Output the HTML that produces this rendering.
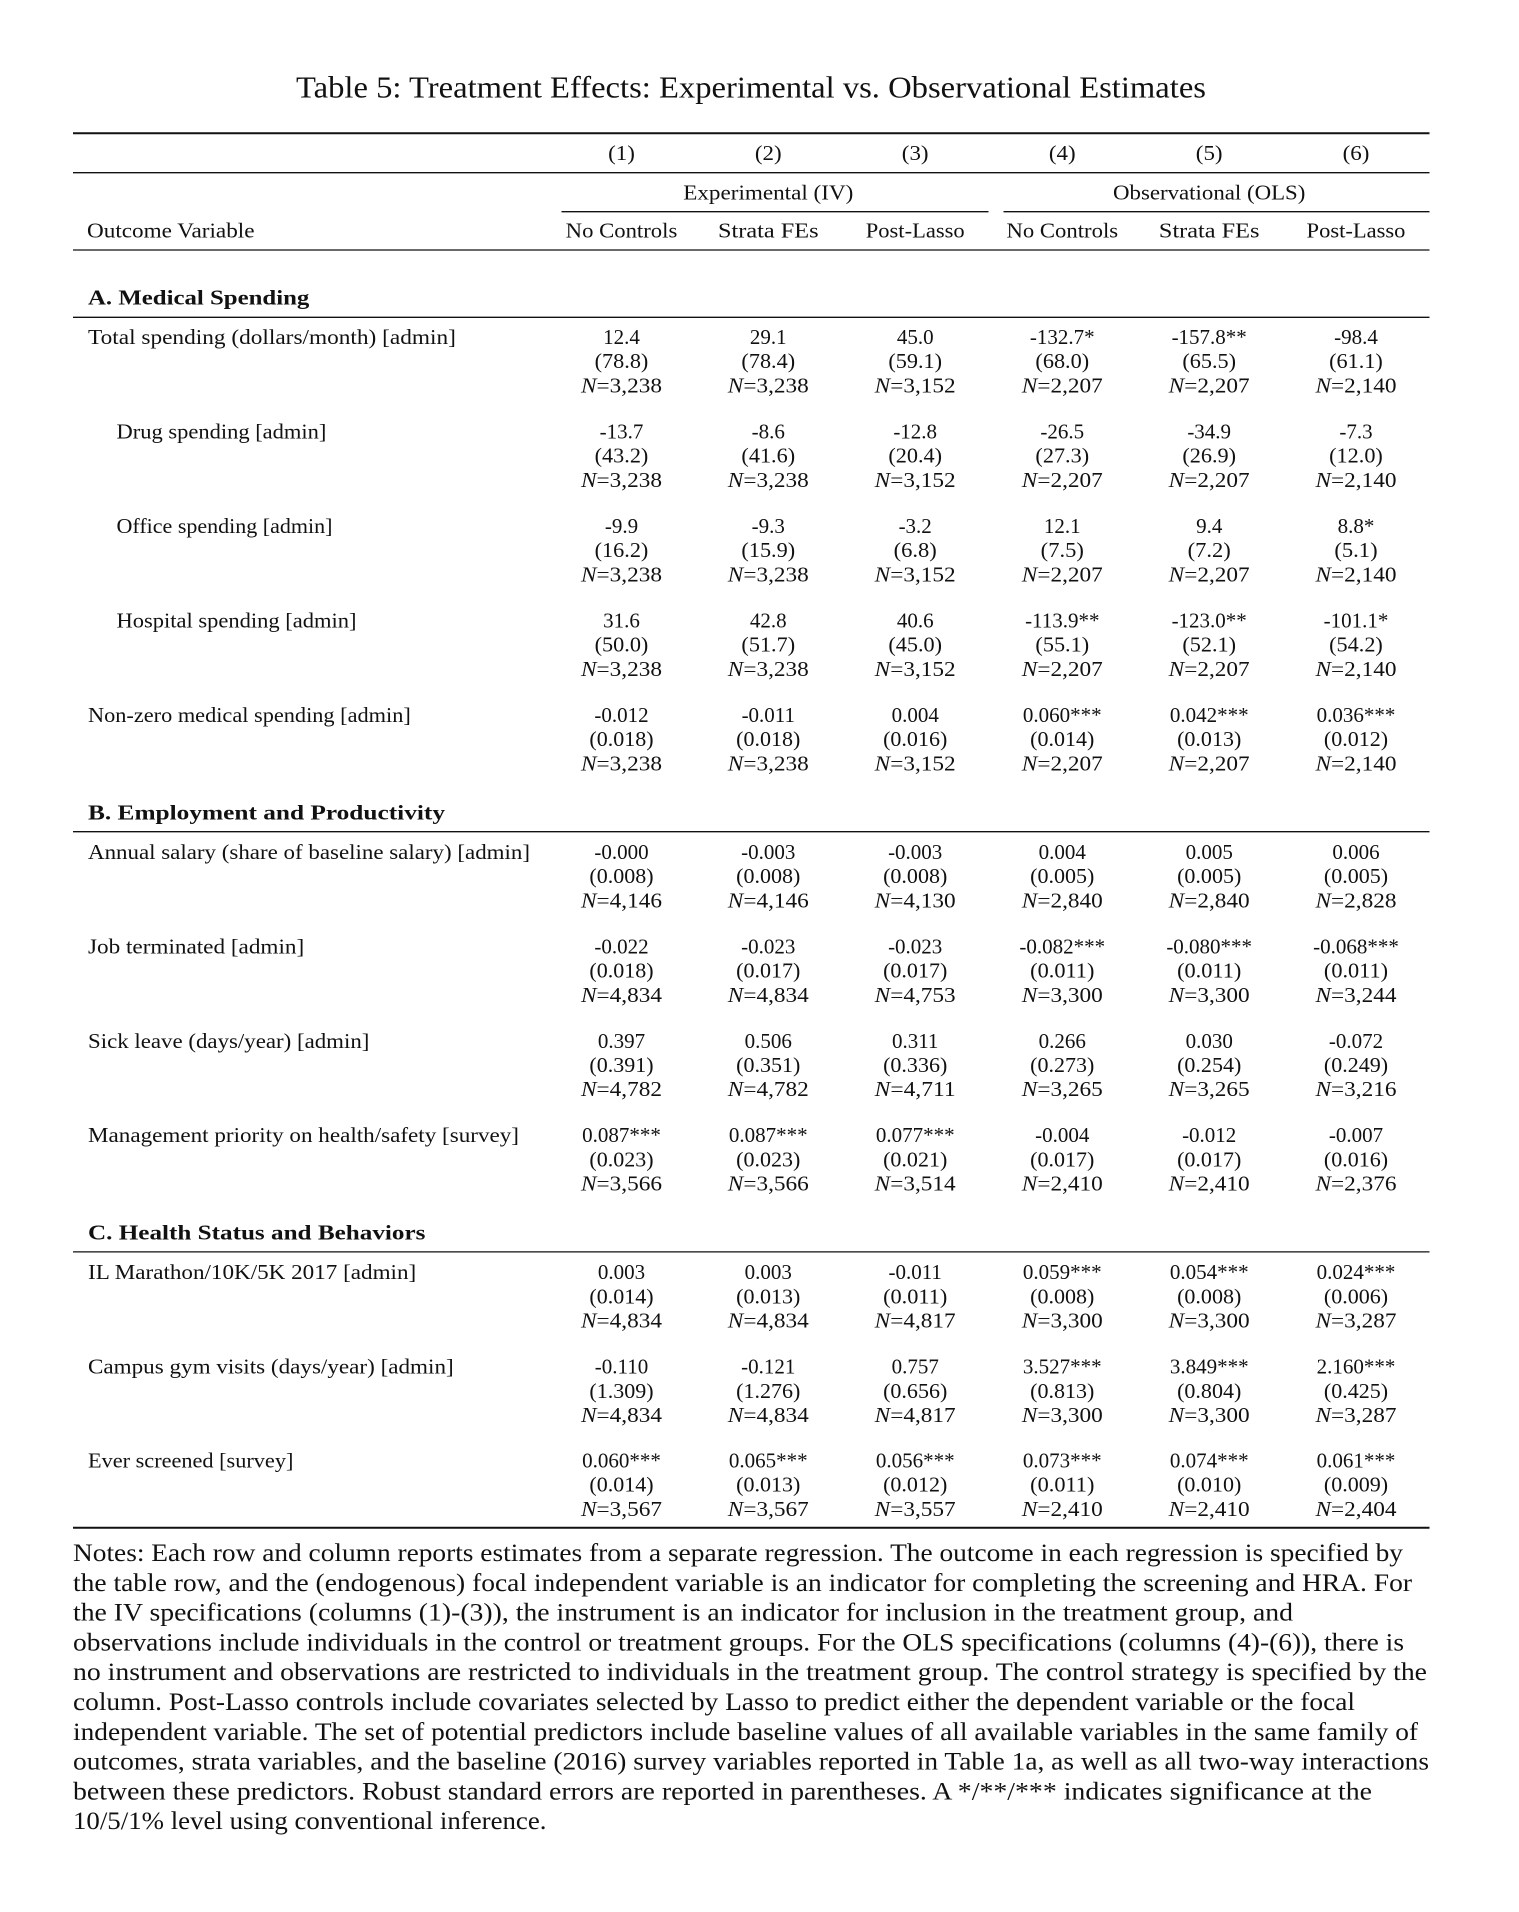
<!DOCTYPE html>
<html>
<head>
<meta charset="utf-8">
<style>
html,body{margin:0;padding:0;background:#fff;}
svg{display:block;}
text{font-family:"Liberation Serif",serif;fill:#111;}
.t{font-size:21px;}
.c{font-size:21px;text-anchor:middle;}
.b{font-size:21px;font-weight:bold;}
.n{font-size:24.8px;}
</style>
</head>
<body>
<svg width="1519" height="1912" viewBox="0 0 1519 1912" xmlns="http://www.w3.org/2000/svg">
<rect width="1519" height="1912" fill="#fff"/>

<!-- Title -->
<text x="296" y="97.7" font-size="31" textLength="910" lengthAdjust="spacingAndGlyphs">Table 5: Treatment Effects: Experimental vs. Observational Estimates</text>

<!-- Rules -->
<g stroke="#111">
<line x1="73" y1="133.3" x2="1429.5" y2="133.3" stroke-width="2"/>
<line x1="73" y1="172.7" x2="1429.5" y2="172.7" stroke-width="1.3"/>
<line x1="561.5" y1="211.7" x2="988.5" y2="211.7" stroke-width="1.3"/>
<line x1="1003.5" y1="211.7" x2="1429.5" y2="211.7" stroke-width="1.3"/>
<line x1="73" y1="250" x2="1429.5" y2="250" stroke-width="1.3"/>
<line x1="73" y1="317.3" x2="1429.5" y2="317.3" stroke-width="1.3"/>
<line x1="73" y1="831.7" x2="1429.5" y2="831.7" stroke-width="1.3"/>
<line x1="73" y1="1251.9" x2="1429.5" y2="1251.9" stroke-width="1.3"/>
<line x1="73" y1="1527.7" x2="1429.5" y2="1527.7" stroke-width="2"/>
</g>

<!-- Header -->
<g>
<text class="c" x="621.5" y="160" textLength="26.8" lengthAdjust="spacingAndGlyphs">(1)</text>
<text class="c" x="768.3" y="160" textLength="26.8" lengthAdjust="spacingAndGlyphs">(2)</text>
<text class="c" x="915.2" y="160" textLength="26.8" lengthAdjust="spacingAndGlyphs">(3)</text>
<text class="c" x="1062.3" y="160" textLength="26.8" lengthAdjust="spacingAndGlyphs">(4)</text>
<text class="c" x="1209.2" y="160" textLength="26.8" lengthAdjust="spacingAndGlyphs">(5)</text>
<text class="c" x="1356" y="160" textLength="26.8" lengthAdjust="spacingAndGlyphs">(6)</text>

<text class="c" x="768.3" y="199.3" textLength="170.1" lengthAdjust="spacingAndGlyphs">Experimental (IV)</text>
<text class="c" x="1209.2" y="199.3" textLength="192.4" lengthAdjust="spacingAndGlyphs">Observational (OLS)</text>

<text class="t" x="87" y="237.7" textLength="167.5" lengthAdjust="spacingAndGlyphs">Outcome Variable</text>
<text class="c" x="621.5" y="237.7" textLength="111.6" lengthAdjust="spacingAndGlyphs">No Controls</text>
<text class="c" x="768.3" y="237.7" textLength="100.5" lengthAdjust="spacingAndGlyphs">Strata FEs</text>
<text class="c" x="915.2" y="237.7" textLength="98.9" lengthAdjust="spacingAndGlyphs">Post-Lasso</text>
<text class="c" x="1062.3" y="237.7" textLength="111.6" lengthAdjust="spacingAndGlyphs">No Controls</text>
<text class="c" x="1209.2" y="237.7" textLength="100.5" lengthAdjust="spacingAndGlyphs">Strata FEs</text>
<text class="c" x="1356" y="237.7" textLength="98.9" lengthAdjust="spacingAndGlyphs">Post-Lasso</text>
</g>

<!-- Section headers -->
<text class="b" x="88" y="304.3" textLength="221.3" lengthAdjust="spacingAndGlyphs">A. Medical Spending</text>
<text class="b" x="88" y="819.3" textLength="357" lengthAdjust="spacingAndGlyphs">B. Employment and Productivity</text>
<text class="b" x="88" y="1239.5" textLength="337.4" lengthAdjust="spacingAndGlyphs">C. Health Status and Behaviors</text>

<!-- ===== Section A ===== -->
<!-- Total spending -->
<g transform="translate(0,344)">
<text class="t" x="88" y="0" textLength="367.9" lengthAdjust="spacingAndGlyphs">Total spending (dollars/month) [admin]</text>
<text class="c" x="621.5" y="0">12.4</text>
<text class="c" x="768.3" y="0">29.1</text>
<text class="c" x="915.2" y="0">45.0</text>
<text class="c" x="1062.3" y="0">-132.7*</text>
<text class="c" x="1209.2" y="0">-157.8**</text>
<text class="c" x="1356" y="0">-98.4</text>
<text class="c" x="621.5" y="24.2" textLength="53.7" lengthAdjust="spacingAndGlyphs">(78.8)</text>
<text class="c" x="768.3" y="24.2" textLength="53.7" lengthAdjust="spacingAndGlyphs">(78.4)</text>
<text class="c" x="915.2" y="24.2" textLength="53.7" lengthAdjust="spacingAndGlyphs">(59.1)</text>
<text class="c" x="1062.3" y="24.2" textLength="53.7" lengthAdjust="spacingAndGlyphs">(68.0)</text>
<text class="c" x="1209.2" y="24.2" textLength="53.7" lengthAdjust="spacingAndGlyphs">(65.5)</text>
<text class="c" x="1356" y="24.2" textLength="53.7" lengthAdjust="spacingAndGlyphs">(61.1)</text>
<text class="c" x="621.5" y="48.4" textLength="81" lengthAdjust="spacingAndGlyphs"><tspan font-style="italic">N</tspan>=3,238</text>
<text class="c" x="768.3" y="48.4" textLength="81" lengthAdjust="spacingAndGlyphs"><tspan font-style="italic">N</tspan>=3,238</text>
<text class="c" x="915.2" y="48.4" textLength="81" lengthAdjust="spacingAndGlyphs"><tspan font-style="italic">N</tspan>=3,152</text>
<text class="c" x="1062.3" y="48.4" textLength="81" lengthAdjust="spacingAndGlyphs"><tspan font-style="italic">N</tspan>=2,207</text>
<text class="c" x="1209.2" y="48.4" textLength="81" lengthAdjust="spacingAndGlyphs"><tspan font-style="italic">N</tspan>=2,207</text>
<text class="c" x="1356" y="48.4" textLength="81" lengthAdjust="spacingAndGlyphs"><tspan font-style="italic">N</tspan>=2,140</text>
</g>

<!-- Drug spending -->
<g transform="translate(0,438.5)">
<text class="t" x="116.5" y="0" textLength="209.9" lengthAdjust="spacingAndGlyphs">Drug spending [admin]</text>
<text class="c" x="621.5" y="0">-13.7</text>
<text class="c" x="768.3" y="0">-8.6</text>
<text class="c" x="915.2" y="0">-12.8</text>
<text class="c" x="1062.3" y="0">-26.5</text>
<text class="c" x="1209.2" y="0">-34.9</text>
<text class="c" x="1356" y="0">-7.3</text>
<text class="c" x="621.5" y="24.2" textLength="53.7" lengthAdjust="spacingAndGlyphs">(43.2)</text>
<text class="c" x="768.3" y="24.2" textLength="53.7" lengthAdjust="spacingAndGlyphs">(41.6)</text>
<text class="c" x="915.2" y="24.2" textLength="53.7" lengthAdjust="spacingAndGlyphs">(20.4)</text>
<text class="c" x="1062.3" y="24.2" textLength="53.7" lengthAdjust="spacingAndGlyphs">(27.3)</text>
<text class="c" x="1209.2" y="24.2" textLength="53.7" lengthAdjust="spacingAndGlyphs">(26.9)</text>
<text class="c" x="1356" y="24.2" textLength="53.7" lengthAdjust="spacingAndGlyphs">(12.0)</text>
<text class="c" x="621.5" y="48.4" textLength="81" lengthAdjust="spacingAndGlyphs"><tspan font-style="italic">N</tspan>=3,238</text>
<text class="c" x="768.3" y="48.4" textLength="81" lengthAdjust="spacingAndGlyphs"><tspan font-style="italic">N</tspan>=3,238</text>
<text class="c" x="915.2" y="48.4" textLength="81" lengthAdjust="spacingAndGlyphs"><tspan font-style="italic">N</tspan>=3,152</text>
<text class="c" x="1062.3" y="48.4" textLength="81" lengthAdjust="spacingAndGlyphs"><tspan font-style="italic">N</tspan>=2,207</text>
<text class="c" x="1209.2" y="48.4" textLength="81" lengthAdjust="spacingAndGlyphs"><tspan font-style="italic">N</tspan>=2,207</text>
<text class="c" x="1356" y="48.4" textLength="81" lengthAdjust="spacingAndGlyphs"><tspan font-style="italic">N</tspan>=2,140</text>
</g>

<!-- Office spending -->
<g transform="translate(0,533)">
<text class="t" x="116.5" y="0" textLength="216" lengthAdjust="spacingAndGlyphs">Office spending [admin]</text>
<text class="c" x="621.5" y="0">-9.9</text>
<text class="c" x="768.3" y="0">-9.3</text>
<text class="c" x="915.2" y="0">-3.2</text>
<text class="c" x="1062.3" y="0">12.1</text>
<text class="c" x="1209.2" y="0">9.4</text>
<text class="c" x="1356" y="0">8.8*</text>
<text class="c" x="621.5" y="24.2" textLength="53.7" lengthAdjust="spacingAndGlyphs">(16.2)</text>
<text class="c" x="768.3" y="24.2" textLength="53.7" lengthAdjust="spacingAndGlyphs">(15.9)</text>
<text class="c" x="915.2" y="24.2" textLength="43.2" lengthAdjust="spacingAndGlyphs">(6.8)</text>
<text class="c" x="1062.3" y="24.2" textLength="43.2" lengthAdjust="spacingAndGlyphs">(7.5)</text>
<text class="c" x="1209.2" y="24.2" textLength="43.2" lengthAdjust="spacingAndGlyphs">(7.2)</text>
<text class="c" x="1356" y="24.2" textLength="43.2" lengthAdjust="spacingAndGlyphs">(5.1)</text>
<text class="c" x="621.5" y="48.4" textLength="81" lengthAdjust="spacingAndGlyphs"><tspan font-style="italic">N</tspan>=3,238</text>
<text class="c" x="768.3" y="48.4" textLength="81" lengthAdjust="spacingAndGlyphs"><tspan font-style="italic">N</tspan>=3,238</text>
<text class="c" x="915.2" y="48.4" textLength="81" lengthAdjust="spacingAndGlyphs"><tspan font-style="italic">N</tspan>=3,152</text>
<text class="c" x="1062.3" y="48.4" textLength="81" lengthAdjust="spacingAndGlyphs"><tspan font-style="italic">N</tspan>=2,207</text>
<text class="c" x="1209.2" y="48.4" textLength="81" lengthAdjust="spacingAndGlyphs"><tspan font-style="italic">N</tspan>=2,207</text>
<text class="c" x="1356" y="48.4" textLength="81" lengthAdjust="spacingAndGlyphs"><tspan font-style="italic">N</tspan>=2,140</text>
</g>

<!-- Hospital spending -->
<g transform="translate(0,627.5)">
<text class="t" x="116.5" y="0" textLength="240" lengthAdjust="spacingAndGlyphs">Hospital spending [admin]</text>
<text class="c" x="621.5" y="0">31.6</text>
<text class="c" x="768.3" y="0">42.8</text>
<text class="c" x="915.2" y="0">40.6</text>
<text class="c" x="1062.3" y="0">-113.9**</text>
<text class="c" x="1209.2" y="0">-123.0**</text>
<text class="c" x="1356" y="0">-101.1*</text>
<text class="c" x="621.5" y="24.2" textLength="53.7" lengthAdjust="spacingAndGlyphs">(50.0)</text>
<text class="c" x="768.3" y="24.2" textLength="53.7" lengthAdjust="spacingAndGlyphs">(51.7)</text>
<text class="c" x="915.2" y="24.2" textLength="53.7" lengthAdjust="spacingAndGlyphs">(45.0)</text>
<text class="c" x="1062.3" y="24.2" textLength="53.7" lengthAdjust="spacingAndGlyphs">(55.1)</text>
<text class="c" x="1209.2" y="24.2" textLength="53.7" lengthAdjust="spacingAndGlyphs">(52.1)</text>
<text class="c" x="1356" y="24.2" textLength="53.7" lengthAdjust="spacingAndGlyphs">(54.2)</text>
<text class="c" x="621.5" y="48.4" textLength="81" lengthAdjust="spacingAndGlyphs"><tspan font-style="italic">N</tspan>=3,238</text>
<text class="c" x="768.3" y="48.4" textLength="81" lengthAdjust="spacingAndGlyphs"><tspan font-style="italic">N</tspan>=3,238</text>
<text class="c" x="915.2" y="48.4" textLength="81" lengthAdjust="spacingAndGlyphs"><tspan font-style="italic">N</tspan>=3,152</text>
<text class="c" x="1062.3" y="48.4" textLength="81" lengthAdjust="spacingAndGlyphs"><tspan font-style="italic">N</tspan>=2,207</text>
<text class="c" x="1209.2" y="48.4" textLength="81" lengthAdjust="spacingAndGlyphs"><tspan font-style="italic">N</tspan>=2,207</text>
<text class="c" x="1356" y="48.4" textLength="81" lengthAdjust="spacingAndGlyphs"><tspan font-style="italic">N</tspan>=2,140</text>
</g>

<!-- Non-zero medical spending -->
<g transform="translate(0,722)">
<text class="t" x="88" y="0" textLength="322.8" lengthAdjust="spacingAndGlyphs">Non-zero medical spending [admin]</text>
<text class="c" x="621.5" y="0">-0.012</text>
<text class="c" x="768.3" y="0">-0.011</text>
<text class="c" x="915.2" y="0">0.004</text>
<text class="c" x="1062.3" y="0">0.060***</text>
<text class="c" x="1209.2" y="0">0.042***</text>
<text class="c" x="1356" y="0">0.036***</text>
<text class="c" x="621.5" y="24.2" textLength="64.2" lengthAdjust="spacingAndGlyphs">(0.018)</text>
<text class="c" x="768.3" y="24.2" textLength="64.2" lengthAdjust="spacingAndGlyphs">(0.018)</text>
<text class="c" x="915.2" y="24.2" textLength="64.2" lengthAdjust="spacingAndGlyphs">(0.016)</text>
<text class="c" x="1062.3" y="24.2" textLength="64.2" lengthAdjust="spacingAndGlyphs">(0.014)</text>
<text class="c" x="1209.2" y="24.2" textLength="64.2" lengthAdjust="spacingAndGlyphs">(0.013)</text>
<text class="c" x="1356" y="24.2" textLength="64.2" lengthAdjust="spacingAndGlyphs">(0.012)</text>
<text class="c" x="621.5" y="48.4" textLength="81" lengthAdjust="spacingAndGlyphs"><tspan font-style="italic">N</tspan>=3,238</text>
<text class="c" x="768.3" y="48.4" textLength="81" lengthAdjust="spacingAndGlyphs"><tspan font-style="italic">N</tspan>=3,238</text>
<text class="c" x="915.2" y="48.4" textLength="81" lengthAdjust="spacingAndGlyphs"><tspan font-style="italic">N</tspan>=3,152</text>
<text class="c" x="1062.3" y="48.4" textLength="81" lengthAdjust="spacingAndGlyphs"><tspan font-style="italic">N</tspan>=2,207</text>
<text class="c" x="1209.2" y="48.4" textLength="81" lengthAdjust="spacingAndGlyphs"><tspan font-style="italic">N</tspan>=2,207</text>
<text class="c" x="1356" y="48.4" textLength="81" lengthAdjust="spacingAndGlyphs"><tspan font-style="italic">N</tspan>=2,140</text>
</g>

<!-- ===== Section B ===== -->
<!-- Annual salary -->
<g transform="translate(0,859)">
<text class="t" x="88" y="0" textLength="442" lengthAdjust="spacingAndGlyphs">Annual salary (share of baseline salary) [admin]</text>
<text class="c" x="621.5" y="0">-0.000</text>
<text class="c" x="768.3" y="0">-0.003</text>
<text class="c" x="915.2" y="0">-0.003</text>
<text class="c" x="1062.3" y="0">0.004</text>
<text class="c" x="1209.2" y="0">0.005</text>
<text class="c" x="1356" y="0">0.006</text>
<text class="c" x="621.5" y="24.2" textLength="64.2" lengthAdjust="spacingAndGlyphs">(0.008)</text>
<text class="c" x="768.3" y="24.2" textLength="64.2" lengthAdjust="spacingAndGlyphs">(0.008)</text>
<text class="c" x="915.2" y="24.2" textLength="64.2" lengthAdjust="spacingAndGlyphs">(0.008)</text>
<text class="c" x="1062.3" y="24.2" textLength="64.2" lengthAdjust="spacingAndGlyphs">(0.005)</text>
<text class="c" x="1209.2" y="24.2" textLength="64.2" lengthAdjust="spacingAndGlyphs">(0.005)</text>
<text class="c" x="1356" y="24.2" textLength="64.2" lengthAdjust="spacingAndGlyphs">(0.005)</text>
<text class="c" x="621.5" y="48.4" textLength="81" lengthAdjust="spacingAndGlyphs"><tspan font-style="italic">N</tspan>=4,146</text>
<text class="c" x="768.3" y="48.4" textLength="81" lengthAdjust="spacingAndGlyphs"><tspan font-style="italic">N</tspan>=4,146</text>
<text class="c" x="915.2" y="48.4" textLength="81" lengthAdjust="spacingAndGlyphs"><tspan font-style="italic">N</tspan>=4,130</text>
<text class="c" x="1062.3" y="48.4" textLength="81" lengthAdjust="spacingAndGlyphs"><tspan font-style="italic">N</tspan>=2,840</text>
<text class="c" x="1209.2" y="48.4" textLength="81" lengthAdjust="spacingAndGlyphs"><tspan font-style="italic">N</tspan>=2,840</text>
<text class="c" x="1356" y="48.4" textLength="81" lengthAdjust="spacingAndGlyphs"><tspan font-style="italic">N</tspan>=2,828</text>
</g>

<!-- Job terminated -->
<g transform="translate(0,953.4)">
<text class="t" x="88" y="0" textLength="216.2" lengthAdjust="spacingAndGlyphs">Job terminated [admin]</text>
<text class="c" x="621.5" y="0">-0.022</text>
<text class="c" x="768.3" y="0">-0.023</text>
<text class="c" x="915.2" y="0">-0.023</text>
<text class="c" x="1062.3" y="0">-0.082***</text>
<text class="c" x="1209.2" y="0">-0.080***</text>
<text class="c" x="1356" y="0">-0.068***</text>
<text class="c" x="621.5" y="24.2" textLength="64.2" lengthAdjust="spacingAndGlyphs">(0.018)</text>
<text class="c" x="768.3" y="24.2" textLength="64.2" lengthAdjust="spacingAndGlyphs">(0.017)</text>
<text class="c" x="915.2" y="24.2" textLength="64.2" lengthAdjust="spacingAndGlyphs">(0.017)</text>
<text class="c" x="1062.3" y="24.2" textLength="64.2" lengthAdjust="spacingAndGlyphs">(0.011)</text>
<text class="c" x="1209.2" y="24.2" textLength="64.2" lengthAdjust="spacingAndGlyphs">(0.011)</text>
<text class="c" x="1356" y="24.2" textLength="64.2" lengthAdjust="spacingAndGlyphs">(0.011)</text>
<text class="c" x="621.5" y="48.4" textLength="81" lengthAdjust="spacingAndGlyphs"><tspan font-style="italic">N</tspan>=4,834</text>
<text class="c" x="768.3" y="48.4" textLength="81" lengthAdjust="spacingAndGlyphs"><tspan font-style="italic">N</tspan>=4,834</text>
<text class="c" x="915.2" y="48.4" textLength="81" lengthAdjust="spacingAndGlyphs"><tspan font-style="italic">N</tspan>=4,753</text>
<text class="c" x="1062.3" y="48.4" textLength="81" lengthAdjust="spacingAndGlyphs"><tspan font-style="italic">N</tspan>=3,300</text>
<text class="c" x="1209.2" y="48.4" textLength="81" lengthAdjust="spacingAndGlyphs"><tspan font-style="italic">N</tspan>=3,300</text>
<text class="c" x="1356" y="48.4" textLength="81" lengthAdjust="spacingAndGlyphs"><tspan font-style="italic">N</tspan>=3,244</text>
</g>

<!-- Sick leave -->
<g transform="translate(0,1047.8)">
<text class="t" x="88" y="0" textLength="281.4" lengthAdjust="spacingAndGlyphs">Sick leave (days/year) [admin]</text>
<text class="c" x="621.5" y="0">0.397</text>
<text class="c" x="768.3" y="0">0.506</text>
<text class="c" x="915.2" y="0">0.311</text>
<text class="c" x="1062.3" y="0">0.266</text>
<text class="c" x="1209.2" y="0">0.030</text>
<text class="c" x="1356" y="0">-0.072</text>
<text class="c" x="621.5" y="24.2" textLength="64.2" lengthAdjust="spacingAndGlyphs">(0.391)</text>
<text class="c" x="768.3" y="24.2" textLength="64.2" lengthAdjust="spacingAndGlyphs">(0.351)</text>
<text class="c" x="915.2" y="24.2" textLength="64.2" lengthAdjust="spacingAndGlyphs">(0.336)</text>
<text class="c" x="1062.3" y="24.2" textLength="64.2" lengthAdjust="spacingAndGlyphs">(0.273)</text>
<text class="c" x="1209.2" y="24.2" textLength="64.2" lengthAdjust="spacingAndGlyphs">(0.254)</text>
<text class="c" x="1356" y="24.2" textLength="64.2" lengthAdjust="spacingAndGlyphs">(0.249)</text>
<text class="c" x="621.5" y="48.4" textLength="81" lengthAdjust="spacingAndGlyphs"><tspan font-style="italic">N</tspan>=4,782</text>
<text class="c" x="768.3" y="48.4" textLength="81" lengthAdjust="spacingAndGlyphs"><tspan font-style="italic">N</tspan>=4,782</text>
<text class="c" x="915.2" y="48.4" textLength="81" lengthAdjust="spacingAndGlyphs"><tspan font-style="italic">N</tspan>=4,711</text>
<text class="c" x="1062.3" y="48.4" textLength="81" lengthAdjust="spacingAndGlyphs"><tspan font-style="italic">N</tspan>=3,265</text>
<text class="c" x="1209.2" y="48.4" textLength="81" lengthAdjust="spacingAndGlyphs"><tspan font-style="italic">N</tspan>=3,265</text>
<text class="c" x="1356" y="48.4" textLength="81" lengthAdjust="spacingAndGlyphs"><tspan font-style="italic">N</tspan>=3,216</text>
</g>

<!-- Management priority -->
<g transform="translate(0,1142.2)">
<text class="t" x="88" y="0" textLength="431" lengthAdjust="spacingAndGlyphs">Management priority on health/safety [survey]</text>
<text class="c" x="621.5" y="0">0.087***</text>
<text class="c" x="768.3" y="0">0.087***</text>
<text class="c" x="915.2" y="0">0.077***</text>
<text class="c" x="1062.3" y="0">-0.004</text>
<text class="c" x="1209.2" y="0">-0.012</text>
<text class="c" x="1356" y="0">-0.007</text>
<text class="c" x="621.5" y="24.2" textLength="64.2" lengthAdjust="spacingAndGlyphs">(0.023)</text>
<text class="c" x="768.3" y="24.2" textLength="64.2" lengthAdjust="spacingAndGlyphs">(0.023)</text>
<text class="c" x="915.2" y="24.2" textLength="64.2" lengthAdjust="spacingAndGlyphs">(0.021)</text>
<text class="c" x="1062.3" y="24.2" textLength="64.2" lengthAdjust="spacingAndGlyphs">(0.017)</text>
<text class="c" x="1209.2" y="24.2" textLength="64.2" lengthAdjust="spacingAndGlyphs">(0.017)</text>
<text class="c" x="1356" y="24.2" textLength="64.2" lengthAdjust="spacingAndGlyphs">(0.016)</text>
<text class="c" x="621.5" y="48.4" textLength="81" lengthAdjust="spacingAndGlyphs"><tspan font-style="italic">N</tspan>=3,566</text>
<text class="c" x="768.3" y="48.4" textLength="81" lengthAdjust="spacingAndGlyphs"><tspan font-style="italic">N</tspan>=3,566</text>
<text class="c" x="915.2" y="48.4" textLength="81" lengthAdjust="spacingAndGlyphs"><tspan font-style="italic">N</tspan>=3,514</text>
<text class="c" x="1062.3" y="48.4" textLength="81" lengthAdjust="spacingAndGlyphs"><tspan font-style="italic">N</tspan>=2,410</text>
<text class="c" x="1209.2" y="48.4" textLength="81" lengthAdjust="spacingAndGlyphs"><tspan font-style="italic">N</tspan>=2,410</text>
<text class="c" x="1356" y="48.4" textLength="81" lengthAdjust="spacingAndGlyphs"><tspan font-style="italic">N</tspan>=2,376</text>
</g>

<!-- ===== Section C ===== -->
<!-- IL Marathon -->
<g transform="translate(0,1279.2)">
<text class="t" x="88" y="0" textLength="328.2" lengthAdjust="spacingAndGlyphs">IL Marathon/10K/5K 2017 [admin]</text>
<text class="c" x="621.5" y="0">0.003</text>
<text class="c" x="768.3" y="0">0.003</text>
<text class="c" x="915.2" y="0">-0.011</text>
<text class="c" x="1062.3" y="0">0.059***</text>
<text class="c" x="1209.2" y="0">0.054***</text>
<text class="c" x="1356" y="0">0.024***</text>
<text class="c" x="621.5" y="24.2" textLength="64.2" lengthAdjust="spacingAndGlyphs">(0.014)</text>
<text class="c" x="768.3" y="24.2" textLength="64.2" lengthAdjust="spacingAndGlyphs">(0.013)</text>
<text class="c" x="915.2" y="24.2" textLength="64.2" lengthAdjust="spacingAndGlyphs">(0.011)</text>
<text class="c" x="1062.3" y="24.2" textLength="64.2" lengthAdjust="spacingAndGlyphs">(0.008)</text>
<text class="c" x="1209.2" y="24.2" textLength="64.2" lengthAdjust="spacingAndGlyphs">(0.008)</text>
<text class="c" x="1356" y="24.2" textLength="64.2" lengthAdjust="spacingAndGlyphs">(0.006)</text>
<text class="c" x="621.5" y="48.4" textLength="81" lengthAdjust="spacingAndGlyphs"><tspan font-style="italic">N</tspan>=4,834</text>
<text class="c" x="768.3" y="48.4" textLength="81" lengthAdjust="spacingAndGlyphs"><tspan font-style="italic">N</tspan>=4,834</text>
<text class="c" x="915.2" y="48.4" textLength="81" lengthAdjust="spacingAndGlyphs"><tspan font-style="italic">N</tspan>=4,817</text>
<text class="c" x="1062.3" y="48.4" textLength="81" lengthAdjust="spacingAndGlyphs"><tspan font-style="italic">N</tspan>=3,300</text>
<text class="c" x="1209.2" y="48.4" textLength="81" lengthAdjust="spacingAndGlyphs"><tspan font-style="italic">N</tspan>=3,300</text>
<text class="c" x="1356" y="48.4" textLength="81" lengthAdjust="spacingAndGlyphs"><tspan font-style="italic">N</tspan>=3,287</text>
</g>

<!-- Campus gym visits -->
<g transform="translate(0,1373.6)">
<text class="t" x="88" y="0" textLength="365.7" lengthAdjust="spacingAndGlyphs">Campus gym visits (days/year) [admin]</text>
<text class="c" x="621.5" y="0">-0.110</text>
<text class="c" x="768.3" y="0">-0.121</text>
<text class="c" x="915.2" y="0">0.757</text>
<text class="c" x="1062.3" y="0">3.527***</text>
<text class="c" x="1209.2" y="0">3.849***</text>
<text class="c" x="1356" y="0">2.160***</text>
<text class="c" x="621.5" y="24.2" textLength="64.2" lengthAdjust="spacingAndGlyphs">(1.309)</text>
<text class="c" x="768.3" y="24.2" textLength="64.2" lengthAdjust="spacingAndGlyphs">(1.276)</text>
<text class="c" x="915.2" y="24.2" textLength="64.2" lengthAdjust="spacingAndGlyphs">(0.656)</text>
<text class="c" x="1062.3" y="24.2" textLength="64.2" lengthAdjust="spacingAndGlyphs">(0.813)</text>
<text class="c" x="1209.2" y="24.2" textLength="64.2" lengthAdjust="spacingAndGlyphs">(0.804)</text>
<text class="c" x="1356" y="24.2" textLength="64.2" lengthAdjust="spacingAndGlyphs">(0.425)</text>
<text class="c" x="621.5" y="48.4" textLength="81" lengthAdjust="spacingAndGlyphs"><tspan font-style="italic">N</tspan>=4,834</text>
<text class="c" x="768.3" y="48.4" textLength="81" lengthAdjust="spacingAndGlyphs"><tspan font-style="italic">N</tspan>=4,834</text>
<text class="c" x="915.2" y="48.4" textLength="81" lengthAdjust="spacingAndGlyphs"><tspan font-style="italic">N</tspan>=4,817</text>
<text class="c" x="1062.3" y="48.4" textLength="81" lengthAdjust="spacingAndGlyphs"><tspan font-style="italic">N</tspan>=3,300</text>
<text class="c" x="1209.2" y="48.4" textLength="81" lengthAdjust="spacingAndGlyphs"><tspan font-style="italic">N</tspan>=3,300</text>
<text class="c" x="1356" y="48.4" textLength="81" lengthAdjust="spacingAndGlyphs"><tspan font-style="italic">N</tspan>=3,287</text>
</g>

<!-- Ever screened -->
<g transform="translate(0,1467.5)">
<text class="t" x="88" y="0" textLength="205.4" lengthAdjust="spacingAndGlyphs">Ever screened [survey]</text>
<text class="c" x="621.5" y="0">0.060***</text>
<text class="c" x="768.3" y="0">0.065***</text>
<text class="c" x="915.2" y="0">0.056***</text>
<text class="c" x="1062.3" y="0">0.073***</text>
<text class="c" x="1209.2" y="0">0.074***</text>
<text class="c" x="1356" y="0">0.061***</text>
<text class="c" x="621.5" y="24.2" textLength="64.2" lengthAdjust="spacingAndGlyphs">(0.014)</text>
<text class="c" x="768.3" y="24.2" textLength="64.2" lengthAdjust="spacingAndGlyphs">(0.013)</text>
<text class="c" x="915.2" y="24.2" textLength="64.2" lengthAdjust="spacingAndGlyphs">(0.012)</text>
<text class="c" x="1062.3" y="24.2" textLength="64.2" lengthAdjust="spacingAndGlyphs">(0.011)</text>
<text class="c" x="1209.2" y="24.2" textLength="64.2" lengthAdjust="spacingAndGlyphs">(0.010)</text>
<text class="c" x="1356" y="24.2" textLength="64.2" lengthAdjust="spacingAndGlyphs">(0.009)</text>
<text class="c" x="621.5" y="48.4" textLength="81" lengthAdjust="spacingAndGlyphs"><tspan font-style="italic">N</tspan>=3,567</text>
<text class="c" x="768.3" y="48.4" textLength="81" lengthAdjust="spacingAndGlyphs"><tspan font-style="italic">N</tspan>=3,567</text>
<text class="c" x="915.2" y="48.4" textLength="81" lengthAdjust="spacingAndGlyphs"><tspan font-style="italic">N</tspan>=3,557</text>
<text class="c" x="1062.3" y="48.4" textLength="81" lengthAdjust="spacingAndGlyphs"><tspan font-style="italic">N</tspan>=2,410</text>
<text class="c" x="1209.2" y="48.4" textLength="81" lengthAdjust="spacingAndGlyphs"><tspan font-style="italic">N</tspan>=2,410</text>
<text class="c" x="1356" y="48.4" textLength="81" lengthAdjust="spacingAndGlyphs"><tspan font-style="italic">N</tspan>=2,404</text>
</g>

<!-- Notes -->
<text class="n" x="73" y="1561" textLength="1330" lengthAdjust="spacingAndGlyphs">Notes: Each row and column reports estimates from a separate regression. The outcome in each regression is specified by</text>
<text class="n" x="73" y="1590.8" textLength="1339" lengthAdjust="spacingAndGlyphs">the table row, and the (endogenous) focal independent variable is an indicator for completing the screening and HRA. For</text>
<text class="n" x="73" y="1620.6" textLength="1220" lengthAdjust="spacingAndGlyphs">the IV specifications (columns (1)-(3)), the instrument is an indicator for inclusion in the treatment group, and</text>
<text class="n" x="73" y="1650.4" textLength="1331" lengthAdjust="spacingAndGlyphs">observations include individuals in the control or treatment groups. For the OLS specifications (columns (4)-(6)), there is</text>
<text class="n" x="73" y="1680.2" textLength="1354" lengthAdjust="spacingAndGlyphs">no instrument and observations are restricted to individuals in the treatment group. The control strategy is specified by the</text>
<text class="n" x="73" y="1710" textLength="1282" lengthAdjust="spacingAndGlyphs">column. Post-Lasso controls include covariates selected by Lasso to predict either the dependent variable or the focal</text>
<text class="n" x="73" y="1739.8" textLength="1345" lengthAdjust="spacingAndGlyphs">independent variable. The set of potential predictors include baseline values of all available variables in the same family of</text>
<text class="n" x="73" y="1769.6" textLength="1356" lengthAdjust="spacingAndGlyphs">outcomes, strata variables, and the baseline (2016) survey variables reported in Table 1a, as well as all two-way interactions</text>
<text class="n" x="73" y="1799.4" textLength="1299" lengthAdjust="spacingAndGlyphs">between these predictors. Robust standard errors are reported in parentheses. A */**/*** indicates significance at the</text>
<text class="n" x="73" y="1829.2" textLength="473.5" lengthAdjust="spacingAndGlyphs">10/5/1% level using conventional inference.</text>
</svg>
</body>
</html>
